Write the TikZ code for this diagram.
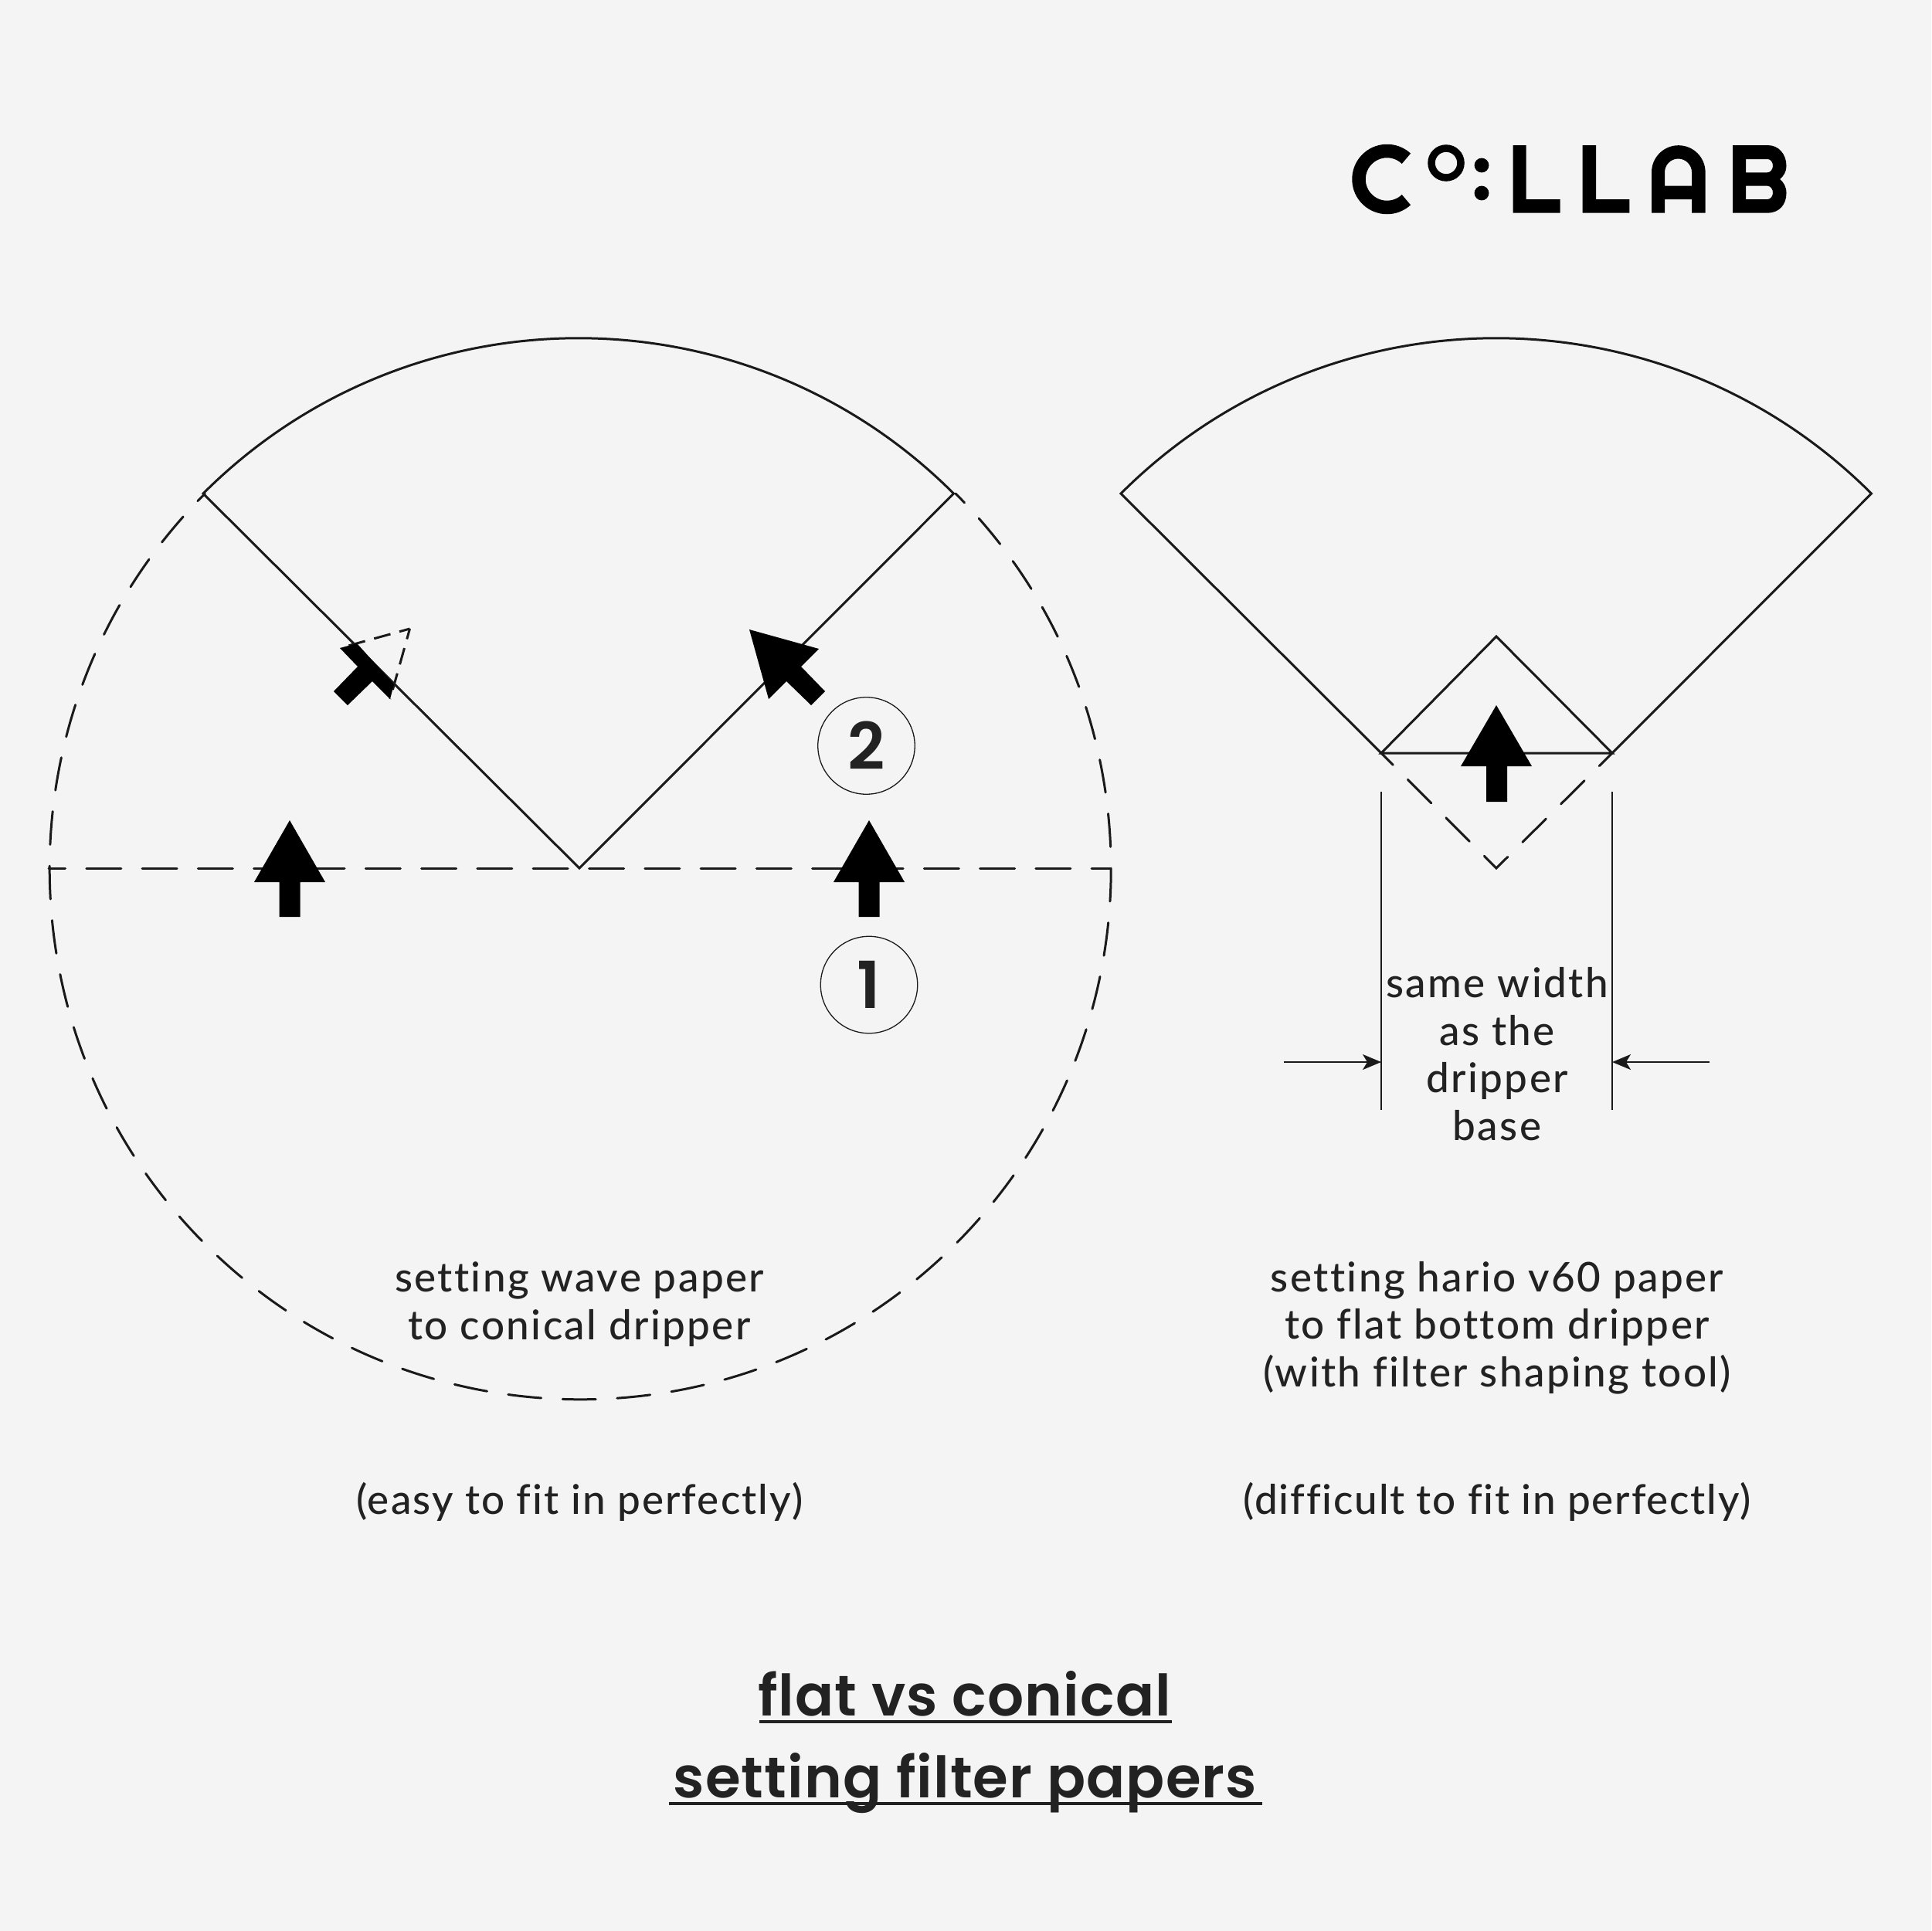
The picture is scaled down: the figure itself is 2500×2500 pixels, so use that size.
\documentclass[tikz,border=0pt]{standalone}
\usepackage{fontspec}
\usetikzlibrary{arrows.meta}
\setmainfont{Lato Medium}[LetterSpace=4.5,Ligatures=NoCommon]
\newfontfamily\titlefont{Poppins SemiBold}[LetterSpace=1.5]
\newfontfamily\numfont{Poppins SemiBold}
\definecolor{bgc}{HTML}{F4F4F4}
\definecolor{inkc}{HTML}{222222}
\definecolor{linec}{HTML}{1A1A1A}
\newcommand{\fatup}[2]{\fill[black,shift={(#1,#2)}] (0,0) -- (46,80) -- (13.5,80) -- (13.5,125) -- (-13.5,125) -- (-13.5,80) -- (-46,80) -- cycle;}
\tikzset{
 solidline/.style={draw=linec,line width=3pt,line join=miter},
 dashA/.style={draw=linec,line width=3pt,line cap=round,dash pattern=on 43pt off 27.67pt,dash phase=26.5pt},
 dashB/.style={draw=linec,line width=3pt,line cap=round,dash pattern=on 45pt off 27.3pt,dash phase=23.5pt},
 dashC/.style={draw=linec,line width=3pt,line cap=round,dash pattern=on 43pt off 27pt,dash phase=21.5pt},
 dashD/.style={draw=linec,line width=3pt,dash pattern=on 14pt off 12pt on 22pt off 12pt on 22pt off 12pt},
 thinline/.style={draw=linec,line width=1.6pt},
 numring/.style={circle,draw=linec,line width=1.3pt,minimum size=125.5pt,inner sep=0pt,text=inkc,font=\numfont\fontsize{84}{84}\selectfont},
 body/.style={text=inkc,inner sep=0pt,anchor=base,font=\fontsize{53}{61.5}\selectfont},
 bodyblock/.style={body,align=center},
 heading/.style={text=inkc,inner sep=0pt,anchor=base,font=\titlefont\fontsize{74}{74}\selectfont},
 rulel/.style={draw=inkc,line width=4.5pt}
}
\begin{document}
\begin{tikzpicture}[x=1pt,y=1pt,yscale=-1]
\useasboundingbox (0,0) rectangle (2500,2500);
\fill[bgc] (0,0) rectangle (2500,2500);

% key points
\coordinate (lc) at (750,1124);
\coordinate (la) at (263,639);
\coordinate (lb) at (1237,639);
\coordinate (lw) at (63,1124);
\coordinate (le) at (1437,1124);
\coordinate (rc) at (1937,1124);
\coordinate (ra) at (1451,639);
\coordinate (rl) at (1788,975);
\coordinate (rr) at (2087,975);
\coordinate (rt) at (1937,824);
\coordinate (vlt) at (1788,1025);
\coordinate (vlb) at (1788,1437);
\coordinate (vrt) at (2087,1025);
\coordinate (vrb) at (2087,1437);
\coordinate (dls) at (1662,1375);
\coordinate (dle) at (1788,1375);
\coordinate (drs) at (2212.5,1375);
\coordinate (dre) at (2087,1375);
\coordinate (ftip) at (530.5,814);
\coordinate (fw1) at (440,839);
\coordinate (fw2) at (505,905);

% left figure
\draw[dashA] (lb) arc[start angle=-45,end angle=225,radius=687pt];
\draw[dashB] (lw) -- (le);
\draw[solidline] (la) arc[start angle=-135,end angle=-45,radius=687pt] -- (lc) -- cycle;
\draw[dashD] (ftip) -- (fw1);
\draw[dashD] (ftip) -- (fw2);
\fill[black] (440,839) -- (462,833) -- (510,886) -- (505,905) -- (482,882) -- (450,913) -- (432,895) -- (463,863) -- cycle;
\fill[black] (970,815) -- (1060,840) -- (1037,863) -- (1068,895) -- (1050,913) -- (1018,882) -- (995,905) -- cycle;
\fatup{375}{1062}
\fatup{1125}{1062}
\node[numring] (n2) at (1121.5,965.5) {\raisebox{-1pt}{2}};
\node[numring] (n1) at (1125,1275) {\raisebox{-3pt}{1}};

% right figure
\draw[solidline] (rl) -- (ra) arc[start angle=-135,end angle=-45,radius=687pt] -- (rr);
\draw[solidline] (rl) -- (rt) -- (rr) -- cycle;
\draw[dashC] (rl) -- (rc) -- (rr);
\fill[black] (1937,913) -- (1983,992) -- (1951,992) -- (1951,1038) -- (1924,1038) -- (1924,992) -- (1891,992) -- cycle;
\draw[thinline] (vlt) -- (vlb);
\draw[thinline] (vrt) -- (vrb);
\draw[thinline,-{Stealth[length=24pt,width=20pt,inset=6pt]}] (dls) -- (dle);
\draw[thinline,-{Stealth[length=24pt,width=20pt,inset=6pt]}] (drs) -- (dre);

% texts
\node[bodyblock] (t1) at (750,1734) {setting wave paper\\to conical dripper};
\node[bodyblock] (t2) at (1938,1795) {setting hario v60 paper\\to flat bottom dripper\\(with filter shaping tool)};
\node[body] (t3) at (750,1960) {\addfontfeature{LetterSpace=3.9}(easy to fit in perfectly)};
\node[body] (t4) at (1938,1960) {\addfontfeature{LetterSpace=3.4}(difficult to fit in perfectly)};
\node[bodyblock] (t5) at (1938,1476) {same width\\as the\\dripper\\base};
\node[heading] (h1) at (1248.5,2221.5) {flat vs conical};
\node[heading] (h2) at (1249.5,2327.5) {setting filter papers};
\coordinate (u1a) at (983,2229);\coordinate (u1b) at (1517,2229);
\coordinate (u2a) at (866,2335);\coordinate (u2b) at (1634,2335);
\draw[rulel] (u1a) -- (u1b);
\draw[rulel] (u2a) -- (u2b);

% logo
\coordinate (cc) at (1795.5,232);
\draw[black,line width=17.5pt] (cc) ++(-47:36.5) arc[start angle=-47,end angle=-313,radius=36.5pt];
\draw[black,line width=9.5pt] (1872,211) circle[radius=19pt];
\fill[black] (1918,214) circle[radius=9.4pt];
\fill[black] (1918,250) circle[radius=9.4pt];
\fill[black] (1958.5,188) -- (1975.5,188) -- (1975.5,258) -- (2019.6,258) -- (2019.6,275.7) -- (1958.5,275.7) -- cycle;
\fill[black] (2048.7,188) -- (2066,188) -- (2066,258) -- (2109.4,258) -- (2109.4,275.7) -- (2048.7,275.7) -- cycle;
\fill[black,even odd rule] (2138,275.7) -- (2138,223) arc[start angle=180,end angle=360,radius=34.8pt] -- (2207.6,275.7) -- (2190,275.7) -- (2190,258) -- (2155,258) -- (2155,275.7) -- cycle
 (2155,240.7) -- (2155,223) arc[start angle=180,end angle=360,radius=17.5pt] -- (2190,240.7) -- cycle;
\fill[black,even odd rule] (2243,188) -- (2288,188) .. controls (2303,188) and (2312.5,200) .. (2312.5,215) .. controls (2312.5,222) and (2309,228) .. (2304,232) .. controls (2309,236) and (2312.5,242) .. (2312.5,250) .. controls (2312.5,265) and (2303,275.7) .. (2288,275.7) -- (2243,275.7) -- cycle
 (2260,206) -- (2288,206) .. controls (2292,206) and (2295,210) .. (2295,214.5) .. controls (2295,219) and (2292,223.3) .. (2288,223.3) -- (2260,223.3) -- cycle
 (2260,240.7) -- (2288,240.7) .. controls (2292,240.7) and (2295,245) .. (2295,249.3) .. controls (2295,254) and (2292,258) .. (2288,258) -- (2260,258) -- cycle;
\end{tikzpicture}
\end{document}
